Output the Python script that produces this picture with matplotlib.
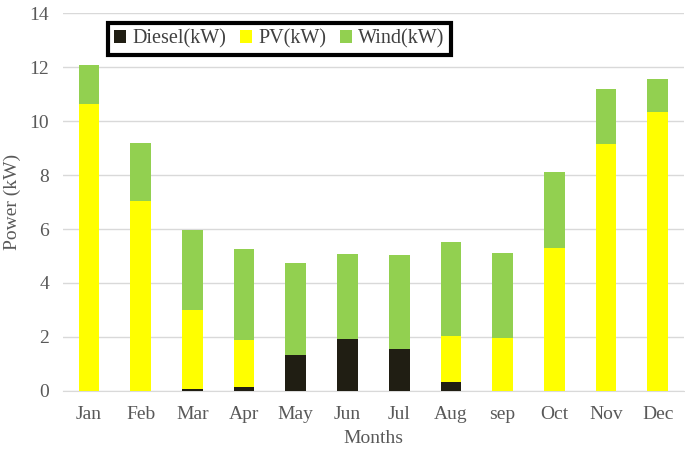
import matplotlib.pyplot as plt
import numpy as np

months = ["Jan", "Feb", "Mar", "Apr", "May", "Jun", "Jul", "Aug", "sep", "Oct", "Nov", "Dec"]
diesel = [0, 0, 0.08, 0.14, 1.33, 1.91, 1.56, 0.33, 0, 0, 0, 0]
pv_top = [10.65, 7.05, 3.0, 1.9, 1.33, 1.91, 1.56, 2.03, 1.95, 5.3, 9.15, 10.35]
total = [12.07, 9.2, 5.97, 5.27, 4.74, 5.09, 5.05, 5.51, 5.1, 8.1, 11.18, 11.57]

pv = [p - d for p, d in zip(pv_top, diesel)]
wind = [t - p for t, p in zip(total, pv_top)]

plt.rcParams['font.family'] = ['Liberation Serif', 'DejaVu Serif']

fig = plt.figure(figsize=(6.85, 4.53), dpi=100)
ax = fig.add_axes([0.092, 0.137, 0.906, 0.834])

x = np.arange(len(months))
w = 0.4
ax.bar(x, diesel, w, color='#201e13', label='Diesel(kW)', zorder=3)
ax.bar(x, pv, w, bottom=diesel, color='#ffff00', label='PV(kW)', zorder=3)
ax.bar(x, wind, w, bottom=pv_top, color='#92d050', label='Wind(kW)', zorder=3)

ax.set_xlim(-0.5, 11.5)
ax.set_ylim(0, 14)
ax.set_yticks(range(0, 15, 2))
ax.set_xticks(x)
ax.set_xticklabels(months)
ax.grid(axis='y', color='#d9d9d9', linewidth=1, zorder=0)
for s in ['top', 'right', 'left']:
    ax.spines[s].set_visible(False)
ax.spines['bottom'].set_color('#d9d9d9')
ax.tick_params(axis='both', length=0, labelsize=14, colors='#595959')
ax.tick_params(axis='x', pad=11)
ax.tick_params(axis='y', pad=10)
ax.set_xlabel("Months", fontsize=14, color='#595959', labelpad=5)
ax.set_ylabel("Power (kW)", fontsize=14, color='#595959', labelpad=6)

leg = ax.legend(loc='upper left', bbox_to_anchor=(0.056, 1.0), ncol=3,
                prop={'family': 'Liberation Serif', 'size': 14.5},
                frameon=True, fancybox=False, framealpha=1,
                handlelength=0.6, handleheight=0.6,
                handletextpad=0.3, columnspacing=0.7, borderpad=0.3)
leg.get_frame().set_edgecolor('black')
leg.get_frame().set_linewidth(3)
for t in leg.get_texts():
    t.set_color('#404040')

fig.savefig("out.png", dpi=100)
